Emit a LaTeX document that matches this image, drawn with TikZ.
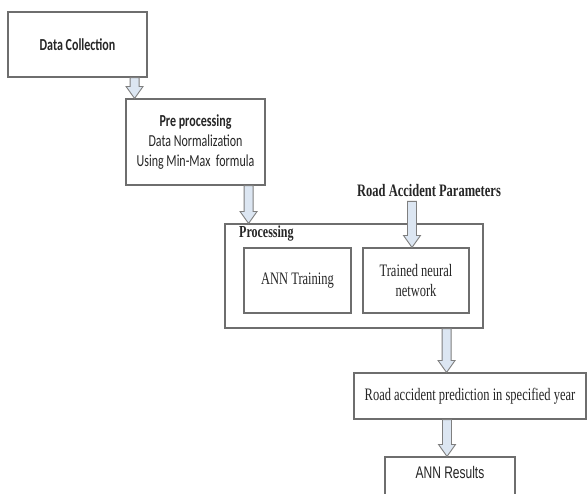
\documentclass[tikz,border=0pt]{standalone}
\usepackage{graphicx}
\usepackage{fontspec}
\setmainfont{Liberation Serif}
\newfontfamily\calib{Carlito}
\newfontfamily\arial{Liberation Sans}
\usetikzlibrary{calc}
\definecolor{boxline}{HTML}{6E6E6E}
\definecolor{arrline}{HTML}{7F7F7F}
\definecolor{arrfill}{HTML}{DCE6F2}
\definecolor{txt}{HTML}{262626}
\newcommand{\tall}[1]{\scalebox{1}[1.4]{#1}}
\tikzset{
  box/.style={draw=boxline, line width=1.1pt, rectangle, inner sep=2pt, text=txt},
  blockarrow/.style={draw=arrline, fill=arrfill, line width=0.9pt, line join=miter},
  calibtext/.style={font=\calib\fontsize{12}{20}\selectfont, align=center, text=txt},
  timestext/.style={font=\fontsize{12.5}{20}\selectfont, align=center, text=txt},
}
\newcommand{\blockarr}[2]{%
  \draw[blockarrow] let \p1=#1, \p2=#2 in
    (\x1-4.5pt,\y1) -- (\x1-4.5pt,\y2+12pt) -- (\x1-8.5pt,\y2+12pt) -- (\x1,\y2)
    -- (\x1+8.5pt,\y2+12pt) -- (\x1+4.5pt,\y2+12pt) -- (\x1+4.5pt,\y1) -- cycle;}
\begin{document}
\begin{tikzpicture}[x=1pt,y=-1pt]
\clip (0,0) rectangle (588,493);
\fill[white] (0,0) rectangle (588,493);
% boxes
\node[box, minimum width=139pt, minimum height=65pt, calibtext] (dc) at (77.5,44.5) {\tall{\bfseries Data Collection}};
\node[box, minimum width=139pt, minimum height=86pt, calibtext] (pre) at (195.5,142) {\tall{\bfseries Pre processing}\\\tall{Data Normalization}\\\tall{Using Min-Max\ \ formula}};
\node[box, minimum width=258pt, minimum height=104pt] (proc) at (354,276) {};
\node[anchor=west, timestext, font=\bfseries\fontsize{12}{14}\selectfont, inner sep=0pt] (proclab) at (239,234) {\tall{Processing}};
\node[box, minimum width=107pt, minimum height=65pt, timestext] (annt) at (297.5,280.5) {\tall{ANN Training}};
\node[box, minimum width=106pt, minimum height=65pt, timestext] (tnn) at (416,280.5) {\tall{Trained neural}\\\tall{network}};
\node[timestext, font=\bfseries\fontsize{12.5}{14}\selectfont, inner sep=0pt] (rap) at (429,191) {\tall{Road Accident Parameters}};
\node[box, minimum width=232pt, minimum height=46pt, timestext] (pred) at (470,396) {\tall{Road accident prediction in specified year}};
\node[box, minimum width=130pt, minimum height=60pt] (res) at (450,487) {};
\node[font=\arial\fontsize{12}{14}\selectfont, text=txt] (restext) at ($(res.north)+(0,16)$) {\tall{ANN Results}};
% arrows
\coordinate (a1s) at ($(dc.south east)+(-13,0)$);
\blockarr{(a1s)}{(a1s |- pre.north)}
\coordinate (a2s) at ($(pre.south east)+(-17,0)$);
\blockarr{(a2s)}{(a2s |- proc.north)}
\coordinate (a3e) at ($(tnn.north)+(-4,0)$);
\blockarr{($(a3e |- rap.south)+(0,4)$)}{(a3e)}
\coordinate (a4s) at ($(proc.south east)+(-37,0)$);
\blockarr{(a4s)}{(a4s |- pred.north)}
\coordinate (a5e) at ($(res.north)+(-3,0)$);
\blockarr{(a5e |- pred.south)}{(a5e)}
\end{tikzpicture}
\end{document}
